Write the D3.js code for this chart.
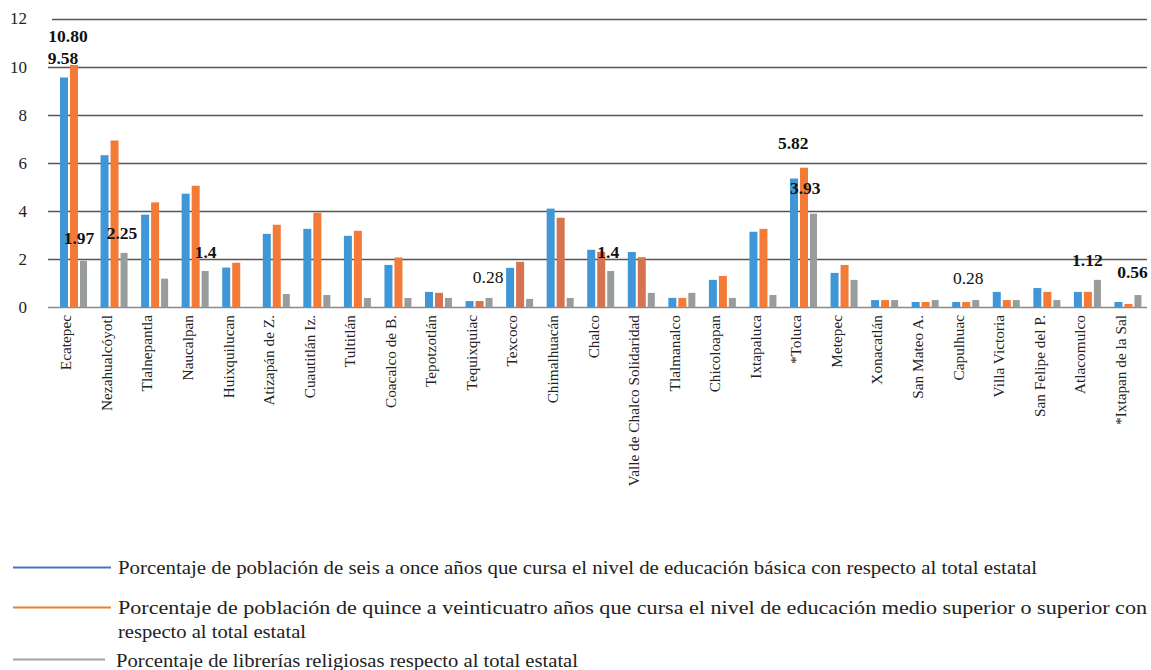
<!DOCTYPE html>
<html><head><meta charset="utf-8">
<script src="https://cdn.jsdelivr.net/npm/d3@7"></script>
<style>
html,body{margin:0;padding:0;background:#fff;}
</style></head>
<body>
<svg id="chart" width="1151" height="670"></svg>
<script>
const categories = ["Ecatepec","Nezahualcóyotl","Tlalnepantla","Naucalpan","Huixquilucan","Atizapán de Z.","Cuautitlán Iz.","Tultitlán","Coacalco de B.","Tepotzotlán","Tequixquiac","Texcoco","Chimalhuacán","Chalco","Valle de Chalco Solidaridad","Tlalmanalco","Chicoloapan","Ixtapaluca","*Toluca","Metepec","Xonacatlán","San Mateo A.","Capulhuac","Villa Victoria","San Felipe del P.","Atlacomulco","*Ixtapan de la Sal"];
const basica = [9.55,6.32,3.85,4.72,1.65,3.05,3.26,2.97,1.76,0.64,0.26,1.64,4.10,2.39,2.30,0.39,1.14,3.14,5.35,1.43,0.30,0.22,0.22,0.64,0.80,0.64,0.22];
const mediaSuperior = [10.07,6.93,4.36,5.05,1.85,3.43,3.93,3.18,2.07,0.60,0.26,1.89,3.72,2.30,2.08,0.39,1.30,3.26,5.80,1.76,0.30,0.22,0.22,0.30,0.64,0.64,0.14];
const librerias = [1.93,2.26,1.19,1.51,0,0.55,0.51,0.39,0.39,0.39,0.39,0.35,0.39,1.51,0.60,0.60,0.39,0.51,3.89,1.14,0.30,0.30,0.30,0.30,0.30,1.14,0.51];
const yTicks = [0,2,4,6,8,10,12];
const seriesNames = [
  "Porcentaje de población de seis a once años que cursa el nivel de educación básica con respecto al total estatal",
  "Porcentaje de población de quince a veinticuatro años que cursa el nivel de educación medio superior o superior con respecto al total estatal",
  "Porcentaje de librerías religiosas respecto al total estatal"
];
// data labels: category, series index, text
const labelCats = ["Ecatepec","Ecatepec","Ecatepec","Nezahualcóyotl","Naucalpan","Tequixquiac","Chalco","*Toluca","*Toluca","Capulhuac","Atlacomulco","*Ixtapan de la Sal"];
const labelSeries = [1,0,2,2,2,2,2,1,2,2,2,2];
const labelTexts = ["10.80","9.58","1.97","2.25","1.4","0.28","1.4","5.82","3.93","0.28","1.12","0.56"];

// ---- styles / layout ----
const FONT = '"Liberation Serif", "Times New Roman", serif';
const labelDx = [8,3,19,21.5,24,22.6,21,3.3,15.3,16,13.5,18];
const labelDy = [-29,-20,-23,-20,-19,-21,-19,-25,-26,-22,-20,-23];
const labelBold = [true,true,true,true,true,false,true,true,true,false,true,true];
const darkOrangeCats = ["Tepotzotlán","Tequixquiac","Texcoco","Chimalhuacán","Chalco","Valle de Chalco Solidaridad"];
const barColors = ["#3F97D7","#F47A38","#999C9C"];
const darkOrange = "#D5744F";
const legendColors = ["#4674C1","#ED7D31","#A3A3A3"];

const svg = d3.select("#chart");
const x = d3.scaleBand().domain(categories).range([49,1144]);
const y = d3.scaleLinear().domain([0,12]).range([307.3,18.5]);
const series = [basica, mediaSuperior, librerias];
const groupOff = 11;
const barOff = [0,10,20];
const barW = [8,8,7];

// gridlines
const grid = svg.append("g");
grid.selectAll("line").data(yTicks).join("line")
  .attr("x1", d => d===12 ? 52 : 48)
  .attr("x2", d => d===8 ? 1143 : 1147)
  .attr("y1", d => Math.round(y(d))+0.5).attr("y2", d => Math.round(y(d))+0.5)
  .attr("stroke", d => d===0 ? "#8a8a8a" : "#555")
  .attr("stroke-width", 1.4);

// y axis via d3 axis
const yAxis = d3.axisLeft(y).tickValues(yTicks).tickSize(0).tickPadding(0);
const yg = svg.append("g").attr("transform","translate(27,0)").call(yAxis);
yg.select(".domain").remove();
yg.selectAll("text").style("font-family",FONT).attr("font-size",17).attr("fill","#222").attr("dy","0.32em");

// bars
series.forEach((vals, si) => {
  svg.append("g").selectAll("rect").data(categories).join("rect")
    .attr("x", (c) => x(c) + groupOff + barOff[si])
    .attr("width", barW[si])
    .attr("y", (c,i) => y(vals[i]))
    .attr("height", (c,i) => y(0) - y(vals[i]))
    .attr("fill", c => (si===1 && darkOrangeCats.includes(c)) ? darkOrange : barColors[si]);
});

// category labels (x axis)
const xAxis = d3.axisBottom(x).tickSize(0).tickPadding(0);
const xg = svg.append("g").attr("transform","translate(0,307)").call(xAxis);
xg.select(".domain").remove();
xg.selectAll(".tick text")
  .style("font-family",FONT).attr("font-size",15.3).attr("fill","#222")
  .attr("transform","translate(-3,8) rotate(-90)")
  .attr("text-anchor","end").attr("x",0).attr("y",0).attr("dy","0.33em");

// data labels
svg.append("g").selectAll("text").data(labelTexts).join("text")
  .attr("x", (t,i) => x(labelCats[i]) + groupOff + labelDx[i])
  .attr("y", (t,i) => y(series[labelSeries[i]][categories.indexOf(labelCats[i])]) + labelDy[i])
  .attr("dy","0.35em")
  .attr("text-anchor","middle")
  .style("font-family",FONT)
  .attr("font-size",17.5)
  .attr("font-weight",(t,i) => labelBold[i] ? "bold" : "normal")
  .attr("fill","#111")
  .text(t => t);

// legend
const lg = svg.append("g");
const legendLineY = [567.5,607.5,659.5];
const legendLineX2 = [111,111,105];
legendLineY.forEach((ly,i) => {
  lg.append("line").attr("x1",13).attr("x2",legendLineX2[i]).attr("y1",ly).attr("y2",ly)
    .attr("stroke",legendColors[i]).attr("stroke-width",2.2);
});
const l2 = seriesNames[1];
const splitAt = l2.lastIndexOf(" con ")+4;
const legendTexts = [
  {t: seriesNames[0], x:118, y:574, len:919},
  {t: l2.slice(0,splitAt), x:118, y:614, len:1029},
  {t: l2.slice(splitAt+1), x:118, y:638, len:188},
  {t: seriesNames[2], x:116, y:667, len:462}
];
lg.selectAll("text").data(legendTexts).join("text")
  .attr("x",d=>d.x).attr("y",d=>d.y)
  .style("font-family",FONT)
  .attr("font-size",19).attr("fill","#222")
  .attr("textLength",d=>d.len).attr("lengthAdjust","spacingAndGlyphs")
  .text(d=>d.t);
</script>
</body></html>
